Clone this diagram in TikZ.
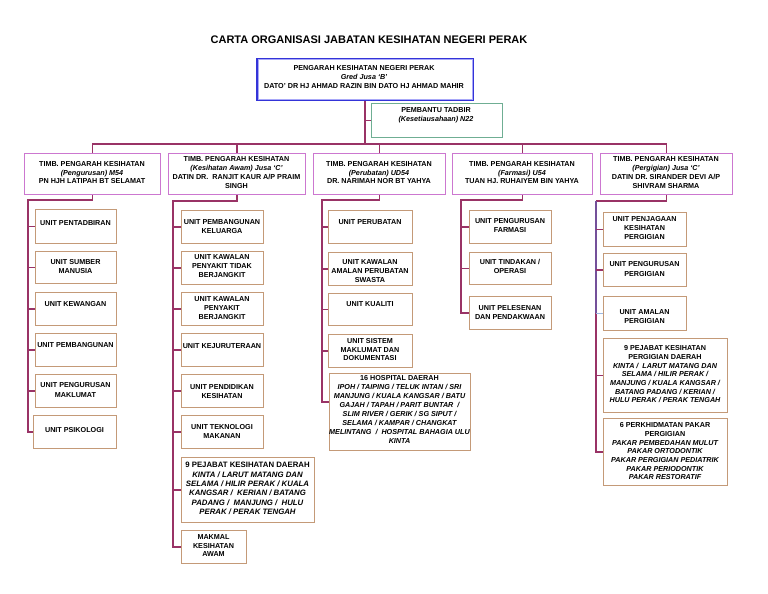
\documentclass[tikz,border=0pt]{standalone}
\usepackage{fontspec}
\setmainfont{Liberation Sans}
\definecolor{connc}{HTML}{993366}
\definecolor{connp}{HTML}{74509A}
\definecolor{connb}{HTML}{9DB8E2}
\definecolor{unitc}{HTML}{C49A78}
\definecolor{headc}{HTML}{CC77D0}
\definecolor{dirc}{HTML}{3434D8}
\definecolor{dirl}{HTML}{A8A8F8}
\definecolor{ptc}{HTML}{6FAE93}
\begin{document}
\begin{tikzpicture}[x=1pt,y=-1pt,
  conn/.style={draw=connc,line width=1.8pt,line join=miter},
  ubox/.style={draw=unitc,line width=0.9pt,inner sep=0,anchor=north west,fill=white},
  hbox/.style={draw=headc,line width=1.1pt,inner sep=0,anchor=north west,fill=white},
  txt/.style={inner sep=0,anchor=north,align=center,font=\fontsize{7.2}{9}\selectfont\bfseries},
  tight/.style={font=\fontsize{7.2}{8.6}\selectfont\bfseries},
  mid/.style={font=\fontsize{7.2}{8.7}\selectfont\bfseries},
  loose/.style={font=\fontsize{7.8}{9.3}\selectfont\bfseries}]
\useasboundingbox[fill=white] (0,0) rectangle (768,594);

% title
\node[font=\fontsize{11}{13}\selectfont\bfseries] (title) at (369,40) {CARTA ORGANISASI JABATAN KESIHATAN NEGERI PERAK};

% director
\node[draw=dirc,line width=1.6pt,inner sep=0,anchor=north west,minimum width=216pt,minimum height=41pt] (dir) at (256,58) {};
\draw[dirl,line width=0.6pt] ([shift={(1.8,1.8)}]dir.north west) rectangle ([shift={(-1.8,-1.8)}]dir.south east);
\node[txt] (dirt) at (364,65.4) {PENGARAH KESIHATAN NEGERI PERAK\\{\itshape Gred Jusa `B'}\\DATO' DR HJ AHMAD RAZIN BIN DATO HJ AHMAD MAHIR};

% pembantu tadbir
\node[draw=ptc,line width=0.9pt,inner sep=0,anchor=north west,minimum width=131pt,minimum height=34pt] (pt) at (371,103) {};
\node[txt] (ptt) at (436,107.4) {PEMBANTU TADBIR\\{\itshape (Kesetiausahaan) N22}};

% headers
\node[hbox,minimum width=136pt,minimum height=41pt] (h1) at (24,153) {};
\node[hbox,minimum width=137pt,minimum height=41pt] (h2) at (168,153) {};
\node[hbox,minimum width=132pt,minimum height=41pt] (h3) at (313,153) {};
\node[hbox,minimum width=140pt,minimum height=41pt] (h4) at (452,153) {};
\node[hbox,minimum width=132pt,minimum height=41pt] (h5) at (600,153) {};
\node[txt,tight] (h1t) at (92,161.4) {TIMB. PENGARAH KESIHATAN\\{\itshape (Pengurusan) M54}\\PN HJH LATIPAH BT SELAMAT};
\node[txt] (h2t) at (236.5,156.4) {TIMB. PENGARAH KESIHATAN\\{\itshape (Kesihatan Awam) Jusa `C'}\\DATIN DR.\ \ RANJIT KAUR A/P PRAIM\\SINGH};
\node[txt,tight] (h3t) at (379,161.4) {TIMB. PENGARAH KESIHATAN\\{\itshape (Perubatan) UD54}\\DR. NARIMAH NOR BT YAHYA};
\node[txt,tight] (h4t) at (522,161.4) {TIMB. PENGARAH KESIHATAN\\{\itshape (Farmasi) U54}\\TUAN HJ. RUHAIYEM BIN YAHYA};
\node[txt] (h5t) at (666,156.4) {TIMB. PENGARAH KESIHATAN\\{\itshape (Pergigian) Jusa `C'}\\DATIN DR. SIRANDER DEVI A/P\\SHIVRAM SHARMA};

% column 1 units
\node[ubox,minimum width=81pt,minimum height=34pt] (c1a) at (35,209) {};
\node[ubox,minimum width=81pt,minimum height=32pt] (c1b) at (35,251) {};
\node[ubox,minimum width=81pt,minimum height=33pt] (c1c) at (35,292) {};
\node[ubox,minimum width=81pt,minimum height=33pt] (c1d) at (35,333) {};
\node[ubox,minimum width=81pt,minimum height=33pt] (c1e) at (35,374) {};
\node[ubox,minimum width=83pt,minimum height=33pt] (c1f) at (33,415) {};
\node[txt] (c1at) at (75.5,220.4) {UNIT PENTADBIRAN};
\node[txt] (c1bt) at (75.5,259.4) {UNIT SUMBER\\MANUSIA};
\node[txt] (c1ct) at (75.5,301.4) {UNIT KEWANGAN};
\node[txt] (c1dt) at (75.5,342.4) {UNIT PEMBANGUNAN};
\node[txt,font=\fontsize{7.2}{10}\selectfont\bfseries] (c1et) at (75.5,382.4) {UNIT PENGURUSAN\\MAKLUMAT};
\node[txt] (c1ft) at (74.5,427.4) {UNIT PSIKOLOGI};

% column 2 units
\node[ubox,minimum width=82pt,minimum height=33pt] (c2a) at (181,210) {};
\node[ubox,minimum width=82pt,minimum height=33pt] (c2b) at (181,251) {};
\node[ubox,minimum width=82pt,minimum height=33pt] (c2c) at (181,292) {};
\node[ubox,minimum width=82pt,minimum height=33pt] (c2d) at (181,333) {};
\node[ubox,minimum width=82pt,minimum height=33pt] (c2e) at (181,374) {};
\node[ubox,minimum width=82pt,minimum height=33pt] (c2f) at (181,415) {};
\node[ubox,minimum width=133pt,minimum height=65pt] (c2g) at (181,457) {};
\node[ubox,minimum width=65pt,minimum height=33pt] (c2h) at (181,530) {};
\node[txt] (c2at) at (222,219.4) {UNIT PEMBANGUNAN\\KELUARGA};
\node[txt] (c2bt) at (222,254.4) {UNIT KAWALAN\\PENYAKIT TIDAK\\BERJANGKIT};
\node[txt] (c2ct) at (222,296.4) {UNIT KAWALAN\\PENYAKIT\\BERJANGKIT};
\node[txt] (c2dt) at (222,343.4) {UNIT KEJURUTERAAN};
\node[txt] (c2et) at (222,384.4) {UNIT PENDIDIKAN\\KESIHATAN};
\node[txt] (c2ft) at (222,424.4) {UNIT TEKNOLOGI\\MAKANAN};
\node[txt,loose] (c2gt) at (247.5,462.2) {9 PEJABAT KESIHATAN DAERAH\\{\itshape KINTA / LARUT MATANG DAN}\\{\itshape SELAMA / HILIR PERAK / KUALA}\\{\itshape KANGSAR /\ \ KERIAN / BATANG}\\{\itshape PADANG /\ \ MANJUNG /\ \ HULU}\\{\itshape PERAK / PERAK TENGAH}};
\node[txt,tight] (c2ht) at (213.5,534.4) {MAKMAL\\KESIHATAN\\AWAM};

% column 3 units
\node[ubox,minimum width=84pt,minimum height=33pt] (c3a) at (328,210) {};
\node[ubox,minimum width=84pt,minimum height=33pt] (c3b) at (328,252) {};
\node[ubox,minimum width=84pt,minimum height=32pt] (c3c) at (328,293) {};
\node[ubox,minimum width=84pt,minimum height=33pt] (c3d) at (328,334) {};
\node[ubox,minimum width=141pt,minimum height=77pt] (c3e) at (329,373) {};
\node[txt] (c3at) at (370,219.4) {UNIT PERUBATAN};
\node[txt] (c3bt) at (370,259.4) {UNIT KAWALAN\\AMALAN PERUBATAN\\SWASTA};
\node[txt] (c3ct) at (370,301.4) {UNIT KUALITI};
\node[txt,tight] (c3dt) at (370,338.4) {UNIT SISTEM\\MAKLUMAT DAN\\DOKUMENTASI};
\node[txt] (c3et) at (399.5,375.4) {16 HOSPITAL DAERAH\\{\itshape IPOH / TAIPING / TELUK INTAN / SRI}\\{\itshape MANJUNG / KUALA KANGSAR / BATU}\\{\itshape GAJAH / TAPAH / PARIT BUNTAR\ \ /}\\{\itshape SLIM RIVER / GERIK / SG SIPUT /}\\{\itshape SELAMA / KAMPAR / CHANGKAT}\\{\itshape MELINTANG\ \ /\ \ HOSPITAL BAHAGIA ULU}\\{\itshape KINTA}};

% column 4 units
\node[ubox,minimum width=82pt,minimum height=33pt] (c4a) at (469,210) {};
\node[ubox,minimum width=82pt,minimum height=32pt] (c4b) at (469,252) {};
\node[ubox,minimum width=82pt,minimum height=33pt] (c4c) at (469,296) {};
\node[txt] (c4at) at (510,218.4) {UNIT PENGURUSAN\\FARMASI};
\node[txt] (c4bt) at (510,259.4) {UNIT TINDAKAN /\\OPERASI};
\node[txt] (c4ct) at (510,305.4) {UNIT PELESENAN\\DAN PENDAKWAAN};

% column 5 units
\node[ubox,minimum width=83pt,minimum height=34pt] (c5a) at (603,212) {};
\node[ubox,minimum width=83pt,minimum height=33pt] (c5b) at (603,253) {};
\node[ubox,minimum width=83pt,minimum height=34pt] (c5c) at (603,296) {};
\node[ubox,minimum width=124pt,minimum height=74pt] (c5d) at (603,338) {};
\node[ubox,minimum width=124pt,minimum height=67pt] (c5e) at (603,418) {};
\node[txt] (c5at) at (644.5,216.4) {UNIT PENJAGAAN\\KESIHATAN\\PERGIGIAN};
\node[txt,font=\fontsize{7.2}{10}\selectfont\bfseries] (c5bt) at (644.5,261.4) {UNIT PENGURUSAN\\PERGIGIAN};
\node[txt] (c5ct) at (644.5,309.4) {UNIT AMALAN\\PERGIGIAN};
\node[txt,mid] (c5dt) at (665,345.4) {9 PEJABAT KESIHATAN\\PERGIGIAN DAERAH\\{\itshape KINTA /\ \ LARUT MATANG DAN}\\{\itshape SELAMA / HILIR PERAK /}\\{\itshape MANJUNG / KUALA KANGSAR /}\\{\itshape BATANG PADANG / KERIAN /}\\{\itshape HULU PERAK / PERAK TENGAH}};
\node[txt,mid] (c5et) at (665,422.4) {6 PERKHIDMATAN PAKAR\\PERGIGIAN\\{\itshape PAKAR PEMBEDAHAN MULUT}\\{\itshape PAKAR ORTODONTIK}\\{\itshape PAKAR PERGIGIAN PEDIATRIK}\\{\itshape PAKAR PERIODONTIK}\\{\itshape PAKAR RESTORATIF}};

% top connectors
\coordinate (bus) at (364,144);
\draw[conn] (dir.south) -- (dir.south |- bus);
\draw[conn] (dir.south |- pt.west) -- (pt.west);
\draw[conn] (h1.north) -- (h1.north |- bus) -- (h5.north |- bus) -- (h5.north);
\foreach \h in {h2,h3,h4} \draw[conn] (\h.north) -- (\h.north |- bus);

% column 1 connectors
\coordinate (v1) at (28,200);
\draw[conn] (h1.south) |- (v1) -- (v1 |- c1f.west) -- (c1f.west);
\foreach \b in {c1a,c1b,c1c,c1d,c1e} \draw[conn] (v1 |- \b.west) -- (\b.west);

% column 2 connectors
\coordinate (v2) at (173,201);
\draw[conn] (h2.south) |- (v2) -- (v2 |- c2h.west) -- (c2h.west);
\foreach \b in {c2a,c2b,c2c,c2d,c2e,c2f,c2g} \draw[conn] (v2 |- \b.west) -- (\b.west);

% column 3 connectors
\coordinate (v3) at (322,200);
\coordinate (s3e) at ([shift={(0,29)}]c3e.north west);
\draw[conn] (h3.south) |- (v3) -- (v3 |- s3e) -- (s3e);
\foreach \b in {c3a,c3b,c3c,c3d} \draw[conn] (v3 |- \b.west) -- (\b.west);

% column 4 connectors
\coordinate (v4) at (461,200);
\draw[conn] (h4.south) |- (v4) -- (v4 |- c4c.west) -- (c4c.west);
\foreach \b in {c4a,c4b} \draw[conn] (v4 |- \b.west) -- (\b.west);

% column 5 connectors
\coordinate (v5) at (596,201);
\draw[conn] (h5.south) |- (v5);
\draw[conn,draw=connp] (v5) -- (v5 |- c5c.west);
\draw[conn] (v5 |- c5c.west) -- (v5 |- c5e.west) -- (c5e.west);
\foreach \b in {c5a,c5b,c5d} \draw[conn] (v5 |- \b.west) -- (\b.west);
\draw[draw=connb,line width=1pt] (v5 |- c5c.west) -- (c5c.west);
\end{tikzpicture}
\end{document}
